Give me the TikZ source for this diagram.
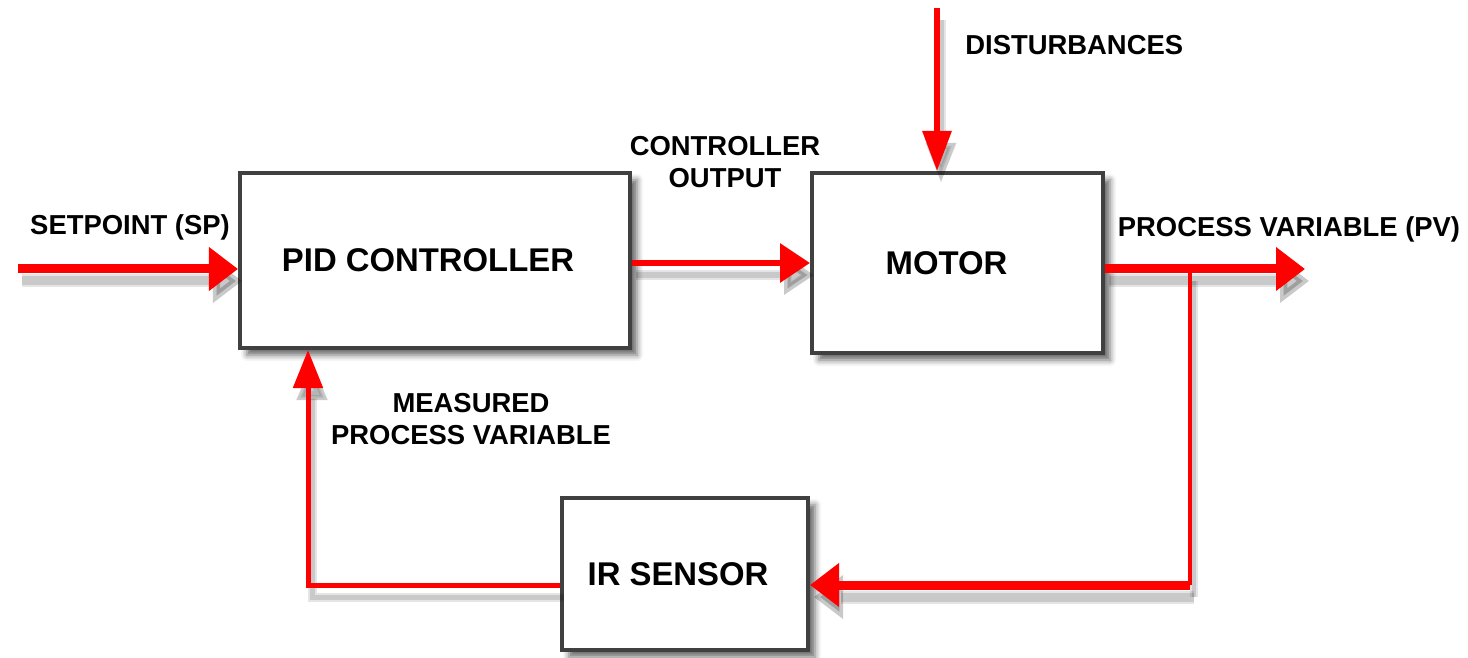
\documentclass[tikz,border=0pt]{standalone}
\usepackage{fontspec}
\setmainfont{Liberation Sans}
\usetikzlibrary{arrows.meta,shadows.blur}

\begin{document}
\begin{tikzpicture}[x=0.2mm,y=-0.2mm,
    block/.style={draw=black!75,line width=0.8mm,fill=white,
      blur shadow={shadow xshift=1.4mm,shadow yshift=-1.4mm,shadow opacity=60,shadow blur radius=1.2mm},
      font=\fontsize{18.7}{22}\selectfont\bfseries},
    lbl/.style={font=\fontsize{15.6}{18.2}\selectfont\bfseries,align=center,inner sep=0pt},
    shade/.style={preaction={draw=black,opacity=0.1,line width=#1+0.8mm,transform canvas={shift={(0.8mm,-2.4mm)}}},
      preaction={draw=black,opacity=0.12,line width=#1,transform canvas={shift={(0.8mm,-2.4mm)}}}},
    sig/.style={red,line width=#1,-{Triangle[length=5.8mm,width=8.4mm]},shade=#1},
    sig/.default=1.8mm,
    fbline/.style={red,line width=#1,shade=#1},
    fbline/.default=0.8mm]
        \useasboundingbox (0,0) rectangle (1468,658);
        % Blocks
        \node[block,minimum width=78mm,minimum height=35mm] (pid) at (435,260.5) {PID CONTROLLER\hspace*{2.8mm}};
        \node[block,minimum width=58.2mm,minimum height=36mm] (motor) at (957.5,263) {MOTOR\hspace*{4.4mm}};
        \node[block,minimum width=49.2mm,minimum height=30.4mm] (sensor) at (685,574) {IR SENSOR\hspace*{2.8mm}};
        % Free ends and corners
        \coordinate (sp) at (18,269);
        \coordinate (dist) at (937,8);
        \coordinate (pv) at (1305,269);
        \coordinate (tap) at (1190,269);
        \coordinate (fb) at (1190,585);
        \coordinate (ret) at (308,585);
        % Forward path
        \draw[sig] (sp) -- (sp -| pid.west);
        \draw[sig=1.3mm,-{Triangle[length=6mm,width=7.6mm]}] (pid.east |- motor.west) -- (motor.west);
        \draw[sig=1.2mm,-{Triangle[length=8mm,width=5.6mm]}] (dist) -- (dist |- motor.north);
        \draw[sig] (pv -| motor.east) -- (pv);
        % Feedback path
        \draw[fbline] (tap) -- (fb);
        \draw[sig] (fb) -- (fb -| sensor.east);
        \draw[fbline=1mm,-{Triangle[length=7.6mm,width=5.8mm]}] (ret -| sensor.west) -- (ret) -- (ret |- pid.south);
        % Labels
        \node[lbl] (splbl) at (130,227) {SETPOINT (SP)};
        \node[lbl] (colbl) at (725,162) {CONTROLLER\\OUTPUT};
        \node[lbl,anchor=west] (dlbl) at (965,45) {DISTURBANCES};
        \node[lbl] (pvlbl) at (1289,229) {PROCESS VARIABLE (PV)};
        \node[lbl] (mlbl) at (471,419) {MEASURED\\PROCESS VARIABLE};
      \end{tikzpicture}
\end{document}
